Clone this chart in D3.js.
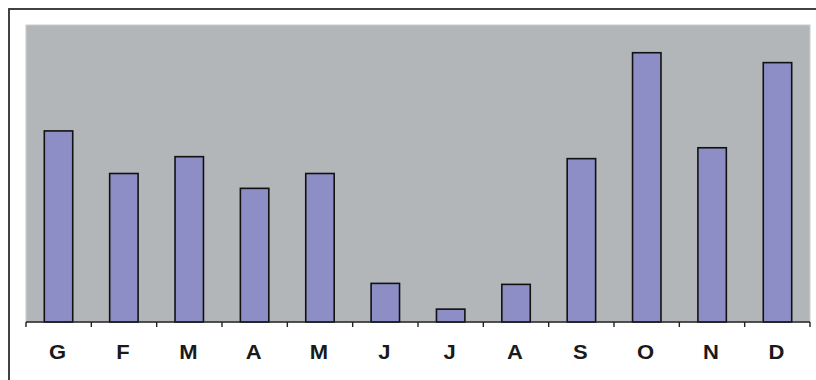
<!DOCTYPE html>
<html>
<head>
<meta charset="utf-8">
<script src="https://cdn.jsdelivr.net/npm/d3@7"></script>
<style>
  body { margin: 0; background: #fff; }
  svg { display: block; }
</style>
</head>
<body>
<div id="chart"></div>
<script>
// data
const months = ["G", "F", "M", "A", "M", "J", "J", "A", "S", "O", "N", "D"];
const values = [193, 150, 167, 135, 150, 39, 13, 38, 165, 272, 176, 262];
const yMax = 300;

const width = 816, height = 380;
const margin = { top: 25, right: 6, bottom: 58, left: 26 };
const innerW = width - margin.left - margin.right;
const innerH = height - margin.top - margin.bottom;

const svg = d3.select("#chart")
  .append("svg")
  .attr("width", width)
  .attr("height", height);

// outer frame (cropped at right / bottom)
svg.append("rect")
  .attr("x", 9).attr("y", 9)
  .attr("width", 830).attr("height", 400)
  .attr("fill", "none")
  .attr("stroke", "#2e2e2e")
  .attr("stroke-width", 1.8);

const g = svg.append("g")
  .attr("transform", `translate(${margin.left},${margin.top})`);

// plot area
g.append("rect")
  .attr("width", innerW).attr("height", innerH)
  .attr("fill", "#b3b6b8")
  .attr("stroke", "#c9cbcc")
  .attr("stroke-width", 1);

// keys are indexes since labels repeat (M, J, A)
const x = d3.scaleBand()
  .domain(d3.range(months.length))
  .range([0, innerW])
  .paddingInner(0.565)
  .paddingOuter(0.28);

const y = d3.scaleLinear()
  .domain([0, yMax])
  .range([innerH, 0]);

g.selectAll(".bar")
  .data(values)
  .enter()
  .append("rect")
  .attr("class", "bar")
  .attr("x", (d, i) => x(i))
  .attr("y", d => y(d))
  .attr("width", x.bandwidth())
  .attr("height", d => innerH - y(d))
  .attr("fill", "#8d8ec6")
  .attr("stroke", "#111")
  .attr("stroke-width", 1.6);

// x axis: ticks on band boundaries, labels centered
const step = innerW / months.length;
const tickPos = d3.range(months.length + 1).map(i => i * step);

const axis = g.append("g")
  .attr("transform", `translate(0,${innerH})`);

axis.append("line")
  .attr("x1", 0).attr("x2", innerW)
  .attr("stroke", "#222").attr("stroke-width", 1.4);

axis.selectAll(".tick")
  .data(tickPos)
  .enter()
  .append("line")
  .attr("x1", d => d).attr("x2", d => d)
  .attr("y1", 0).attr("y2", 5)
  .attr("stroke", "#222").attr("stroke-width", 1.4);

// labels are a bit wider than the font, so stretch them a little
axis.selectAll(".lbl")
  .data(months)
  .enter()
  .append("text")
  .attr("transform", (d, i) => `translate(${(i + 0.5) * step - 1},37) scale(1.1,1)`)
  .attr("text-anchor", "middle")
  .style("font-family", "Liberation Sans, Arial, sans-serif")
  .style("font-size", "20px")
  .style("font-weight", "bold")
  .attr("fill", "#1a1a1a")
  .text(d => d);
</script>
</body>
</html>
